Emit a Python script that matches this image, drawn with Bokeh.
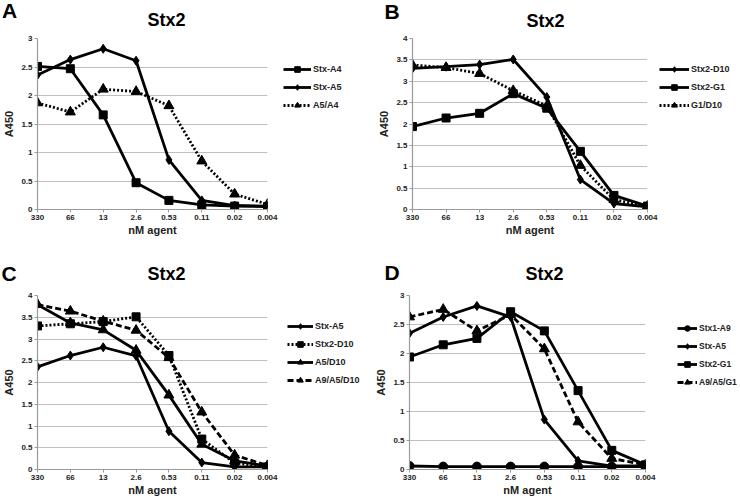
from bokeh.plotting import figure
from bokeh.models import Range1d, FixedTicker, Label, Legend, LegendItem
from bokeh.layouts import column, row
from bokeh.embed import file_html
from bokeh.resources import INLINE

concentrations = ["330", "66", "13", "2.6", "0.53", "0.11", "0.02", "0.004"]

# Panel A
a_stx_a4 = [2.51, 2.47, 1.66, 0.47, 0.16, 0.08, 0.06, 0.05]
a_stx_a5 = [2.36, 2.63, 2.82, 2.61, 0.87, 0.16, 0.07, 0.06]
a_a5_a4 = [1.87, 1.71, 2.11, 2.07, 1.82, 0.85, 0.27, 0.09]

# Panel B
b_stx2_d10 = [3.30, 3.34, 3.39, 3.51, 2.63, 0.70, 0.14, 0.06]
b_stx2_g1 = [1.94, 2.14, 2.25, 2.71, 2.37, 1.36, 0.33, 0.08]
b_g1_d10 = [3.38, 3.32, 3.18, 2.78, 2.42, 1.03, 0.23, 0.08]

# Panel C
c_stx_a5 = [2.36, 2.62, 2.81, 2.61, 0.88, 0.16, 0.06, 0.06]
c_stx2_d10 = [3.30, 3.35, 3.40, 3.51, 2.62, 0.70, 0.15, 0.06]
c_a5_d10 = [3.79, 3.37, 3.21, 2.74, 1.71, 0.58, 0.20, 0.08]
c_a9_a5_d10 = [3.79, 3.64, 3.41, 3.20, 2.57, 1.32, 0.33, 0.09]

# Panel D
d_stx1_a9 = [0.06, 0.05, 0.05, 0.05, 0.05, 0.05, 0.05, 0.05]
d_stx_a5 = [2.35, 2.63, 2.82, 2.63, 0.86, 0.15, 0.06, 0.06]
d_stx2_g1 = [1.94, 2.15, 2.26, 2.72, 2.39, 1.36, 0.33, 0.08]
d_a9_a5_g1 = [2.63, 2.76, 2.39, 2.67, 2.08, 0.82, 0.19, 0.08]

panel_title = "Stx2"
FONT = "Liberation Sans"
MARKER_SIZE = {"square": 8, "diamond": 9, "triangle": 10, "circle": 9}
LINE_W = 2.8
COL_W = 370


def bare_figure(width, height, xr=(0, 1)):
    f = figure(width=width, height=height, x_range=Range1d(*xr), y_range=Range1d(0, 1),
               output_backend="svg", toolbar_location=None,
               x_axis_location=None, y_axis_location=None,
               min_border_left=0, min_border_right=0, min_border_top=0, min_border_bottom=0)
    f.outline_line_color = None
    f.xgrid.visible = False
    f.ygrid.visible = False
    return f


def make_header(height, letter, letter_xy, title_xy):
    h = bare_figure(COL_W, height)
    h.add_layout(Label(x=letter_xy[0], y=letter_xy[1], x_units="screen", y_units="screen",
                       text=letter, text_font=FONT, text_font_style="bold",
                       text_font_size="21px", text_align="center", text_baseline="middle",
                       text_color="black"))
    h.add_layout(Label(x=title_xy[0], y=title_xy[1], x_units="screen", y_units="screen",
                       text=panel_title, text_font=FONT, text_font_style="bold",
                       text_font_size="18px", text_align="center", text_baseline="middle",
                       text_color="black"))
    return h


def make_panel(ymax, series, fw, fh, ml, mr, mt, mb):
    p = figure(width=ml + fw + mr, height=mt + fh + mb,
               x_range=Range1d(0, 7), y_range=Range1d(0, ymax),
               output_backend="svg", toolbar_location=None,
               min_border_left=ml, min_border_right=mr,
               min_border_top=mt, min_border_bottom=mb)
    p.outline_line_color = None
    p.xgrid.visible = False
    p.ygrid.grid_line_color = "#bfbfbf"
    p.ygrid.grid_line_width = 1.2

    xs = list(range(len(concentrations)))
    p.xaxis.ticker = FixedTicker(ticks=xs)
    p.xaxis.major_label_overrides = {i: c for i, c in enumerate(concentrations)}
    yt = [i * 0.5 for i in range(int(ymax * 2) + 1)]
    p.yaxis.ticker = FixedTicker(ticks=yt)
    p.yaxis.major_label_overrides = {(int(v) if float(v).is_integer() else v): f"{v:g}" for v in yt}
    for ax in (p.xaxis[0], p.yaxis[0]):
        ax.axis_line_color = "#9a9a9a"
        ax.axis_line_width = 1.2
        ax.major_tick_line_color = "#9a9a9a"
        ax.major_tick_out = 3
        ax.major_tick_in = 0
        ax.minor_tick_line_color = None
        ax.major_label_text_font = FONT
        ax.major_label_text_font_style = "bold"
        ax.major_label_text_font_size = "8px"
        ax.major_label_text_color = "#222222"
        ax.major_label_standoff = 2
        ax.axis_label_text_font = FONT
        ax.axis_label_text_font_style = "bold"
        ax.axis_label_text_font_size = "11px"
        ax.axis_label_text_color = "#222222"
    p.xaxis.axis_label = "nM agent"
    p.xaxis.axis_label_standoff = 1
    p.yaxis.axis_label = "A450"
    p.yaxis.axis_label_standoff = 3

    for name, vals, marker, dash in series:
        p.line(xs, vals, line_color="black", line_width=LINE_W, line_dash=dash)
        p.scatter(xs, vals, marker=marker, size=MARKER_SIZE[marker],
                  fill_color="black", line_color="black")
    return p


def make_legend(width, height, series, loc, glyph_w, font_size="9px"):
    # separate legend canvas; the series sit outside its view range, only swatches show
    f = bare_figure(width, height, xr=(-30, -29))
    xs = list(range(len(concentrations)))
    items = []
    for name, vals, marker, dash in series:
        lr = f.line(xs, vals, line_color="black", line_width=LINE_W, line_dash=dash)
        sr = f.scatter(xs, vals, marker=marker, size=MARKER_SIZE[marker],
                       fill_color="black", line_color="black")
        items.append(LegendItem(label=name, renderers=[lr, sr]))
    leg = Legend(items=items, location=loc)
    leg.border_line_color = None
    leg.background_fill_alpha = 0
    leg.padding = 0
    leg.margin = 0
    leg.spacing = 4
    leg.glyph_width = glyph_w
    leg.glyph_height = 14
    leg.label_height = 14
    leg.label_standoff = 2
    leg.label_text_font = FONT
    leg.label_text_font_style = "bold"
    leg.label_text_font_size = font_size
    leg.label_text_color = "#222222"
    f.add_layout(leg)
    return f


series_a = [
    ("Stx-A4", a_stx_a4, "square", "solid"),
    ("Stx-A5", a_stx_a5, "diamond", "solid"),
    ("A5/A4", a_a5_a4, "triangle", "2 2"),
]
series_b = [
    ("Stx2-D10", b_stx2_d10, "diamond", "solid"),
    ("Stx2-G1", b_stx2_g1, "square", "solid"),
    ("G1/D10", b_g1_d10, "triangle", "2 2"),
]
series_c = [
    ("Stx-A5", c_stx_a5, "diamond", "solid"),
    ("Stx2-D10", c_stx2_d10, "square", "2 2"),
    ("A5/D10", c_a5_d10, "triangle", "solid"),
    ("A9/A5/D10", c_a9_a5_d10, "triangle", "6 3"),
]
series_d = [
    ("Stx1-A9", d_stx1_a9, "circle", "solid"),
    ("Stx-A5", d_stx_a5, "diamond", "solid"),
    ("Stx2-G1", d_stx2_g1, "square", "solid"),
    ("A9/A5/G1", d_a9_a5_g1, "triangle", "6 3"),
]

hA = make_header(32, "A", (9, 22), (166, 13))
hB = make_header(32, "B", (21.5, 21), (175, 12))
pA = make_panel(3, series_a, fw=232, fh=171, ml=35, mr=12, mt=6, mb=35)
lA = make_legend(COL_W - pA.width, pA.height, series_a, (4, 97), 28)
pB = make_panel(4, series_b, fw=235, fh=171, ml=42, mr=12, mt=6, mb=35)
lB = make_legend(COL_W - pB.width, pB.height, series_b, (0, 97), 30)

hC = make_header(45, "C", (8.5, 16), (166, 16))
hD = make_header(45, "D", (21.5, 17), (174, 16))
pC = make_panel(4, series_c, fw=233, fh=174, ml=34, mr=12, mt=6, mb=29)
lC = make_legend(COL_W - pC.width, pC.height, series_c, (8, 82), 26)
pD = make_panel(3, series_d, fw=236, fh=174, ml=39, mr=12, mt=6, mb=29)
lD = make_legend(COL_W - pD.width, pD.height, series_d, (20, 80), 20, "8.5px")

layout = column(row(hA, hB), row(pA, lA, pB, lB), row(hC, hD), row(pC, lC, pD, lD))
open("out.html", "w").write(file_html(layout, INLINE))
